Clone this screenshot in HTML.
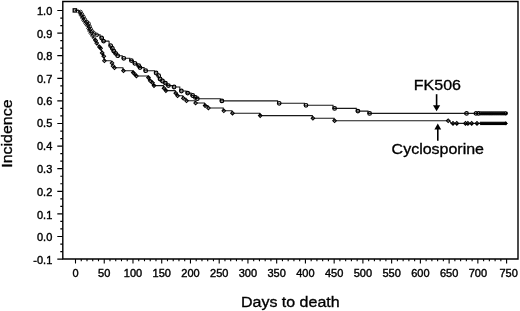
<!DOCTYPE html>
<html><head><meta charset="utf-8"><style>
html,body{margin:0;padding:0;background:#fff;}
svg{display:block;will-change:transform;}
.t11{font-family:"Liberation Sans",sans-serif;font-size:11px;fill:#000;stroke:#000;stroke-width:0.4px;}
.t15{font-family:"Liberation Sans",sans-serif;font-size:16px;fill:#000;stroke:#000;stroke-width:0.35px;}
</style></head><body>
<svg width="520" height="311" viewBox="0 0 520 311">
<path d="M62.8,1.5 H518.0 V259.0 H62.8 Z" fill="none" stroke="#000" stroke-width="1.4"/>
<path d="M57.3,10.50H62.8 M60.3,18.03H62.8 M60.3,25.57H62.8 M57.3,33.10H62.8 M60.3,40.63H62.8 M60.3,48.17H62.8 M57.3,55.70H62.8 M60.3,63.23H62.8 M60.3,70.77H62.8 M57.3,78.30H62.8 M60.3,85.83H62.8 M60.3,93.37H62.8 M57.3,100.90H62.8 M60.3,108.43H62.8 M60.3,115.97H62.8 M57.3,123.50H62.8 M60.3,131.03H62.8 M60.3,138.57H62.8 M57.3,146.10H62.8 M60.3,153.63H62.8 M60.3,161.17H62.8 M57.3,168.70H62.8 M60.3,176.23H62.8 M60.3,183.77H62.8 M57.3,191.30H62.8 M60.3,198.83H62.8 M60.3,206.37H62.8 M57.3,213.90H62.8 M60.3,221.43H62.8 M60.3,228.97H62.8 M57.3,236.50H62.8 M60.3,244.03H62.8 M60.3,251.57H62.8 M57.3,259.10H62.8" stroke="#000" stroke-width="1.2" fill="none"/>
<text x="52.3" y="14.70" text-anchor="end" class="t11">1.0</text>
<text x="52.3" y="38.10" text-anchor="end" class="t11">0.9</text>
<text x="52.3" y="59.90" text-anchor="end" class="t11">0.8</text>
<text x="52.3" y="82.50" text-anchor="end" class="t11">0.7</text>
<text x="52.3" y="105.10" text-anchor="end" class="t11">0.6</text>
<text x="52.3" y="127.10" text-anchor="end" class="t11">0.5</text>
<text x="52.3" y="150.30" text-anchor="end" class="t11">0.4</text>
<text x="52.3" y="172.90" text-anchor="end" class="t11">0.3</text>
<text x="52.3" y="195.50" text-anchor="end" class="t11">0.2</text>
<text x="52.3" y="218.70" text-anchor="end" class="t11">0.1</text>
<text x="52.3" y="240.70" text-anchor="end" class="t11">0.0</text>
<text x="52.3" y="264.30" text-anchor="end" class="t11">-0.1</text>
<path d="M75.50,259.0V263.6 M81.25,259.0V261.2 M87.00,259.0V261.2 M92.74,259.0V261.2 M98.49,259.0V261.2 M104.24,259.0V263.6 M109.99,259.0V261.2 M115.74,259.0V261.2 M121.48,259.0V261.2 M127.23,259.0V261.2 M132.98,259.0V263.6 M138.73,259.0V261.2 M144.48,259.0V261.2 M150.22,259.0V261.2 M155.97,259.0V261.2 M161.72,259.0V263.6 M167.47,259.0V261.2 M173.22,259.0V261.2 M178.96,259.0V261.2 M184.71,259.0V261.2 M190.46,259.0V263.6 M196.21,259.0V261.2 M201.96,259.0V261.2 M207.70,259.0V261.2 M213.45,259.0V261.2 M219.20,259.0V263.6 M224.95,259.0V261.2 M230.70,259.0V261.2 M236.44,259.0V261.2 M242.19,259.0V261.2 M247.94,259.0V263.6 M253.69,259.0V261.2 M259.44,259.0V261.2 M265.18,259.0V261.2 M270.93,259.0V261.2 M276.68,259.0V263.6 M282.43,259.0V261.2 M288.18,259.0V261.2 M293.92,259.0V261.2 M299.67,259.0V261.2 M305.42,259.0V263.6 M311.17,259.0V261.2 M316.92,259.0V261.2 M322.66,259.0V261.2 M328.41,259.0V261.2 M334.16,259.0V263.6 M339.91,259.0V261.2 M345.66,259.0V261.2 M351.40,259.0V261.2 M357.15,259.0V261.2 M362.90,259.0V263.6 M368.65,259.0V261.2 M374.40,259.0V261.2 M380.14,259.0V261.2 M385.89,259.0V261.2 M391.64,259.0V263.6 M397.39,259.0V261.2 M403.14,259.0V261.2 M408.88,259.0V261.2 M414.63,259.0V261.2 M420.38,259.0V263.6 M426.13,259.0V261.2 M431.88,259.0V261.2 M437.62,259.0V261.2 M443.37,259.0V261.2 M449.12,259.0V263.6 M454.87,259.0V261.2 M460.62,259.0V261.2 M466.36,259.0V261.2 M472.11,259.0V261.2 M477.86,259.0V263.6 M483.61,259.0V261.2 M489.36,259.0V261.2 M495.10,259.0V261.2 M500.85,259.0V261.2 M506.60,259.0V263.6" stroke="#000" stroke-width="1.1" fill="none"/>
<text x="75.50" y="277.0" text-anchor="middle" class="t11">0</text>
<text x="104.24" y="277.0" text-anchor="middle" class="t11">50</text>
<text x="132.98" y="277.0" text-anchor="middle" class="t11">100</text>
<text x="161.72" y="277.0" text-anchor="middle" class="t11">150</text>
<text x="190.46" y="277.0" text-anchor="middle" class="t11">200</text>
<text x="219.20" y="277.0" text-anchor="middle" class="t11">250</text>
<text x="247.94" y="277.0" text-anchor="middle" class="t11">300</text>
<text x="276.68" y="277.0" text-anchor="middle" class="t11">350</text>
<text x="305.42" y="277.0" text-anchor="middle" class="t11">400</text>
<text x="334.16" y="277.0" text-anchor="middle" class="t11">450</text>
<text x="362.90" y="277.0" text-anchor="middle" class="t11">500</text>
<text x="391.64" y="277.0" text-anchor="middle" class="t11">550</text>
<text x="420.38" y="277.0" text-anchor="middle" class="t11">600</text>
<text x="449.12" y="277.0" text-anchor="middle" class="t11">650</text>
<text x="477.86" y="277.0" text-anchor="middle" class="t11">700</text>
<text x="508.60" y="277.0" text-anchor="middle" class="t11">750</text>
<text transform="translate(290.3,307.2) scale(1,0.94)" text-anchor="middle" class="t15">Days to death</text>
<text transform="translate(12.4,133.6) rotate(-90) scale(1,0.94)" text-anchor="middle" class="t15">Incidence</text>
<text transform="translate(437.4,89.8) scale(1,0.94)" text-anchor="middle" class="t15">FK506</text>
<text transform="translate(437.8,154.4) scale(1,0.94)" text-anchor="middle" class="t15">Cyclosporine</text>
<path d="M436.6,94.2V106" stroke="#000" stroke-width="1.6"/>
<path d="M433,105.2 L440.2,105.2 L436.6,111.2 Z" fill="#000"/>
<path d="M437.8,129V140.8" stroke="#000" stroke-width="1.6"/>
<path d="M434.4,129.6 L441.2,129.6 L437.8,123.6 Z" fill="#000"/>
<path d="M74.8,10.4 L78.5,10.4 L80.5,12.0 L82.0,14.5 L83.5,17.0 L84.8,19.5 L86.8,22.0 L88.6,23.6 L89.6,26.5 L90.6,29.0 L92.2,31.5 L94.2,33.5 L96.8,34.9 L100.1,34.9 L100.1,34.9 L100.1,38.0 L102.0,38.0 L102.0,41.1 L109.2,41.1 L109.1,41.1 L109.1,45.7 L110.7,45.7 L110.7,48.2 L112.2,48.2 L112.2,51.0 L114.1,51.0 L114.1,53.4 L116.1,53.4 L116.1,55.7 L122.2,55.7 L122.2,58.3 L129.8,58.3 L129.8,60.6 L133.3,60.6 L133.3,63.3 L137.1,63.3 L137.1,65.6 L138.4,65.6 L138.4,67.6 L144.1,67.6 L144.1,70.7 L154.5,70.7 L154.5,73.0 L157.1,73.0 L157.1,75.7 L158.5,75.7 L158.5,79.0 L160.9,79.0 L160.9,81.0 L163.8,81.0 L163.8,83.1 L166.8,83.1 L166.8,85.6 L172.5,85.6 L172.5,87.0 L179.8,87.0 L179.8,91.0 L186.1,91.0 L186.1,93.1 L191.1,93.1 L191.1,95.5 L193.8,95.5 L193.8,97.4 L195.7,97.4 L195.7,98.7 L220.3,98.7 L220.3,100.9 L277.6,100.9 L277.6,103.3 L304.4,103.3 L304.4,105.3 L333.0,105.3 L333.0,108.4 L356.3,108.4 L356.3,111.1 L368.0,111.1 L368.0,113.4 L507.0,113.4" fill="none" stroke="#1a1a1a" stroke-width="1.1"/>
<path d="M74.8,10.4 L78.5,10.4 L79.5,13.0 L81.0,15.5 L82.3,18.0 L83.5,20.5 L85.5,23.5 L87.3,25.8 L88.4,28.5 L89.4,31.0 L90.8,33.5 L92.4,36.0 L94.2,38.4 L95.6,40.4 L96.7,43.1 L98.2,45.2 L99.5,46.9 L100.6,48.3 L101.4,50.5 L102.2,52.9 L103.8,56.2 L104.4,60.8 L111.0,60.8 L112.0,63.0 L113.0,66.0 L114.5,67.8 L122.9,67.8 L122.9,70.7 L132.6,70.7 L132.6,72.6 L134.5,72.6 L134.5,74.5 L135.8,74.5 L135.8,76.0 L147.8,76.0 L147.8,77.6 L149.6,77.6 L149.6,80.8 L151.9,80.8 L151.9,82.7 L153.4,82.7 L153.4,85.6 L163.4,85.6 L163.4,88.3 L165.3,88.3 L165.3,90.6 L175.2,90.6 L175.2,93.2 L177.0,93.2 L177.0,95.8 L182.7,95.8 L182.7,98.3 L185.9,98.3 L185.9,100.8 L195.0,100.8 L195.0,103.0 L204.5,103.0 L204.5,105.6 L207.8,105.6 L207.8,108.0 L223.2,108.0 L223.2,110.8 L231.9,110.8 L231.9,113.2 L259.6,113.2 L259.6,115.6 L312.3,115.6 L312.3,118.3 L334.0,118.3 L334.0,120.7 L447.6,120.7 L447.6,120.7 L449.6,120.7 L451.2,123.4 L507.0,123.4" fill="none" stroke="#1a1a1a" stroke-width="1.1"/>
<path d="M93.8,40.4l1.8,-1.8l1.8,1.8l-1.8,1.8z M94.9,43.1l1.8,-1.8l1.8,1.8l-1.8,1.8z M97.7,46.9l1.8,-1.8l1.8,1.8l-1.8,1.8z M98.8,48.3l1.8,-1.8l1.8,1.8l-1.8,1.8z M100.4,52.9l1.8,-1.8l1.8,1.8l-1.8,1.8z M102.0,56.2l1.8,-1.8l1.8,1.8l-1.8,1.8z M102.6,60.8l1.8,-1.8l1.8,1.8l-1.8,1.8z M110.2,63.0l1.8,-1.8l1.8,1.8l-1.8,1.8z M111.2,66.0l1.8,-1.8l1.8,1.8l-1.8,1.8z M112.7,67.8l1.8,-1.8l1.8,1.8l-1.8,1.8z M121.7,70.7l1.8,-1.8l1.8,1.8l-1.8,1.8z M131.4,72.6l1.8,-1.8l1.8,1.8l-1.8,1.8z M133.3,74.5l1.8,-1.8l1.8,1.8l-1.8,1.8z M134.6,76.0l1.8,-1.8l1.8,1.8l-1.8,1.8z M146.6,77.6l1.8,-1.8l1.8,1.8l-1.8,1.8z M148.4,80.8l1.8,-1.8l1.8,1.8l-1.8,1.8z M150.7,82.7l1.8,-1.8l1.8,1.8l-1.8,1.8z M152.2,85.6l1.8,-1.8l1.8,1.8l-1.8,1.8z M162.2,88.3l1.8,-1.8l1.8,1.8l-1.8,1.8z M164.1,90.6l1.8,-1.8l1.8,1.8l-1.8,1.8z M174.0,93.2l1.8,-1.8l1.8,1.8l-1.8,1.8z M175.8,95.8l1.8,-1.8l1.8,1.8l-1.8,1.8z M181.5,98.3l1.8,-1.8l1.8,1.8l-1.8,1.8z M184.7,100.8l1.8,-1.8l1.8,1.8l-1.8,1.8z M193.8,103.0l1.8,-1.8l1.8,1.8l-1.8,1.8z M203.3,105.6l1.8,-1.8l1.8,1.8l-1.8,1.8z M206.6,108.0l1.8,-1.8l1.8,1.8l-1.8,1.8z M222.0,110.8l1.8,-1.8l1.8,1.8l-1.8,1.8z M230.7,113.2l1.8,-1.8l1.8,1.8l-1.8,1.8z M258.4,115.6l1.8,-1.8l1.8,1.8l-1.8,1.8z M311.1,118.3l1.8,-1.8l1.8,1.8l-1.8,1.8z M332.8,120.7l1.8,-1.8l1.8,1.8l-1.8,1.8z M446.4,120.7l1.8,-1.8l1.8,1.8l-1.8,1.8z M451.2,123.4l1.8,-1.8l1.8,1.8l-1.8,1.8z M455.0,123.4l1.8,-1.8l1.8,1.8l-1.8,1.8z M463.7,123.4l1.8,-1.8l1.8,1.8l-1.8,1.8z M466.1,123.4l1.8,-1.8l1.8,1.8l-1.8,1.8z M469.9,123.4l1.8,-1.8l1.8,1.8l-1.8,1.8z M475.2,123.4l1.8,-1.8l1.8,1.8l-1.8,1.8z" fill="none" stroke="#000" stroke-width="1.05"/>
<path d="M77.7,13.0l1.8,-1.8l1.8,1.8l-1.8,1.8z M79.2,15.5l1.8,-1.8l1.8,1.8l-1.8,1.8z M80.5,18.0l1.8,-1.8l1.8,1.8l-1.8,1.8z M81.7,20.5l1.8,-1.8l1.8,1.8l-1.8,1.8z M83.7,23.5l1.8,-1.8l1.8,1.8l-1.8,1.8z M85.5,25.8l1.8,-1.8l1.8,1.8l-1.8,1.8z M86.6,28.5l1.8,-1.8l1.8,1.8l-1.8,1.8z M87.6,31.0l1.8,-1.8l1.8,1.8l-1.8,1.8z M89.0,33.5l1.8,-1.8l1.8,1.8l-1.8,1.8z M90.6,36.0l1.8,-1.8l1.8,1.8l-1.8,1.8z M92.4,38.4l1.8,-1.8l1.8,1.8l-1.8,1.8z" fill="none" stroke="#000" stroke-width="0.85"/>
<path d="M99.9,38.0a1.8,1.8 0 1,0 3.6,0a1.8,1.8 0 1,0 -3.6,0z M101.8,41.1a1.8,1.8 0 1,0 3.6,0a1.8,1.8 0 1,0 -3.6,0z M108.9,45.7a1.8,1.8 0 1,0 3.6,0a1.8,1.8 0 1,0 -3.6,0z M110.5,48.2a1.8,1.8 0 1,0 3.6,0a1.8,1.8 0 1,0 -3.6,0z M112.0,51.0a1.8,1.8 0 1,0 3.6,0a1.8,1.8 0 1,0 -3.6,0z M113.9,53.4a1.8,1.8 0 1,0 3.6,0a1.8,1.8 0 1,0 -3.6,0z M115.9,55.7a1.8,1.8 0 1,0 3.6,0a1.8,1.8 0 1,0 -3.6,0z M122.0,58.3a1.8,1.8 0 1,0 3.6,0a1.8,1.8 0 1,0 -3.6,0z M129.6,60.6a1.8,1.8 0 1,0 3.6,0a1.8,1.8 0 1,0 -3.6,0z M133.1,63.3a1.8,1.8 0 1,0 3.6,0a1.8,1.8 0 1,0 -3.6,0z M136.9,65.6a1.8,1.8 0 1,0 3.6,0a1.8,1.8 0 1,0 -3.6,0z M138.2,67.6a1.8,1.8 0 1,0 3.6,0a1.8,1.8 0 1,0 -3.6,0z M143.9,70.7a1.8,1.8 0 1,0 3.6,0a1.8,1.8 0 1,0 -3.6,0z M154.3,73.0a1.8,1.8 0 1,0 3.6,0a1.8,1.8 0 1,0 -3.6,0z M156.9,75.7a1.8,1.8 0 1,0 3.6,0a1.8,1.8 0 1,0 -3.6,0z M158.3,79.0a1.8,1.8 0 1,0 3.6,0a1.8,1.8 0 1,0 -3.6,0z M160.7,81.0a1.8,1.8 0 1,0 3.6,0a1.8,1.8 0 1,0 -3.6,0z M163.6,83.1a1.8,1.8 0 1,0 3.6,0a1.8,1.8 0 1,0 -3.6,0z M166.6,85.6a1.8,1.8 0 1,0 3.6,0a1.8,1.8 0 1,0 -3.6,0z M172.3,87.0a1.8,1.8 0 1,0 3.6,0a1.8,1.8 0 1,0 -3.6,0z M179.6,91.0a1.8,1.8 0 1,0 3.6,0a1.8,1.8 0 1,0 -3.6,0z M185.9,93.1a1.8,1.8 0 1,0 3.6,0a1.8,1.8 0 1,0 -3.6,0z M190.9,95.5a1.8,1.8 0 1,0 3.6,0a1.8,1.8 0 1,0 -3.6,0z M193.6,97.4a1.8,1.8 0 1,0 3.6,0a1.8,1.8 0 1,0 -3.6,0z M195.5,98.7a1.8,1.8 0 1,0 3.6,0a1.8,1.8 0 1,0 -3.6,0z M220.1,100.9a1.8,1.8 0 1,0 3.6,0a1.8,1.8 0 1,0 -3.6,0z M277.4,103.3a1.8,1.8 0 1,0 3.6,0a1.8,1.8 0 1,0 -3.6,0z M304.2,105.3a1.8,1.8 0 1,0 3.6,0a1.8,1.8 0 1,0 -3.6,0z M332.8,108.4a1.8,1.8 0 1,0 3.6,0a1.8,1.8 0 1,0 -3.6,0z M356.1,111.1a1.8,1.8 0 1,0 3.6,0a1.8,1.8 0 1,0 -3.6,0z M367.8,113.4a1.8,1.8 0 1,0 3.6,0a1.8,1.8 0 1,0 -3.6,0z M464.7,113.4a1.8,1.8 0 1,0 3.6,0a1.8,1.8 0 1,0 -3.6,0z M474.2,113.4a1.8,1.8 0 1,0 3.6,0a1.8,1.8 0 1,0 -3.6,0z M476.7,113.4a1.8,1.8 0 1,0 3.6,0a1.8,1.8 0 1,0 -3.6,0z" fill="none" stroke="#000" stroke-width="1.2"/>
<path d="M78.7,12.0a1.8,1.8 0 1,0 3.6,0a1.8,1.8 0 1,0 -3.6,0z M80.2,14.5a1.8,1.8 0 1,0 3.6,0a1.8,1.8 0 1,0 -3.6,0z M81.7,17.0a1.8,1.8 0 1,0 3.6,0a1.8,1.8 0 1,0 -3.6,0z M83.0,19.5a1.8,1.8 0 1,0 3.6,0a1.8,1.8 0 1,0 -3.6,0z M85.0,22.0a1.8,1.8 0 1,0 3.6,0a1.8,1.8 0 1,0 -3.6,0z M86.8,23.6a1.8,1.8 0 1,0 3.6,0a1.8,1.8 0 1,0 -3.6,0z M87.8,26.5a1.8,1.8 0 1,0 3.6,0a1.8,1.8 0 1,0 -3.6,0z M88.8,29.0a1.8,1.8 0 1,0 3.6,0a1.8,1.8 0 1,0 -3.6,0z M90.4,31.5a1.8,1.8 0 1,0 3.6,0a1.8,1.8 0 1,0 -3.6,0z M92.4,33.5a1.8,1.8 0 1,0 3.6,0a1.8,1.8 0 1,0 -3.6,0z M95.0,34.9a1.8,1.8 0 1,0 3.6,0a1.8,1.8 0 1,0 -3.6,0z" fill="none" stroke="#000" stroke-width="0.85"/>
<path d="M479.4,113.3a1.6,1.6 0 1,0 3.2,0a1.6,1.6 0 1,0 -3.2,0z M481.4,113.3a1.6,1.6 0 1,0 3.2,0a1.6,1.6 0 1,0 -3.2,0z M483.4,113.3a1.6,1.6 0 1,0 3.2,0a1.6,1.6 0 1,0 -3.2,0z M485.4,113.3a1.6,1.6 0 1,0 3.2,0a1.6,1.6 0 1,0 -3.2,0z M487.4,113.3a1.6,1.6 0 1,0 3.2,0a1.6,1.6 0 1,0 -3.2,0z M489.4,113.3a1.6,1.6 0 1,0 3.2,0a1.6,1.6 0 1,0 -3.2,0z M491.4,113.3a1.6,1.6 0 1,0 3.2,0a1.6,1.6 0 1,0 -3.2,0z M493.4,113.3a1.6,1.6 0 1,0 3.2,0a1.6,1.6 0 1,0 -3.2,0z M495.4,113.3a1.6,1.6 0 1,0 3.2,0a1.6,1.6 0 1,0 -3.2,0z M497.4,113.3a1.6,1.6 0 1,0 3.2,0a1.6,1.6 0 1,0 -3.2,0z M499.4,113.3a1.6,1.6 0 1,0 3.2,0a1.6,1.6 0 1,0 -3.2,0z M501.4,113.3a1.6,1.6 0 1,0 3.2,0a1.6,1.6 0 1,0 -3.2,0z M503.4,113.3a1.6,1.6 0 1,0 3.2,0a1.6,1.6 0 1,0 -3.2,0z M504.2,113.3a1.6,1.6 0 1,0 3.2,0a1.6,1.6 0 1,0 -3.2,0z" fill="none" stroke="#000" stroke-width="1.1"/>
<path d="M479.4,123.4l1.6,-1.7l1.6,1.7l-1.6,1.7z M481.4,123.4l1.6,-1.7l1.6,1.7l-1.6,1.7z M483.4,123.4l1.6,-1.7l1.6,1.7l-1.6,1.7z M485.4,123.4l1.6,-1.7l1.6,1.7l-1.6,1.7z M487.4,123.4l1.6,-1.7l1.6,1.7l-1.6,1.7z M489.4,123.4l1.6,-1.7l1.6,1.7l-1.6,1.7z M491.4,123.4l1.6,-1.7l1.6,1.7l-1.6,1.7z M493.4,123.4l1.6,-1.7l1.6,1.7l-1.6,1.7z M495.4,123.4l1.6,-1.7l1.6,1.7l-1.6,1.7z M497.4,123.4l1.6,-1.7l1.6,1.7l-1.6,1.7z M499.4,123.4l1.6,-1.7l1.6,1.7l-1.6,1.7z M501.4,123.4l1.6,-1.7l1.6,1.7l-1.6,1.7z M503.4,123.4l1.6,-1.7l1.6,1.7l-1.6,1.7z M504.2,123.4l1.6,-1.7l1.6,1.7l-1.6,1.7z" fill="#000" stroke="#000" stroke-width="0.9"/>
<rect x="73.2" y="8.8" width="3.3" height="3.2" fill="none" stroke="#000" stroke-width="1.3"/>
</svg>
</body></html>
